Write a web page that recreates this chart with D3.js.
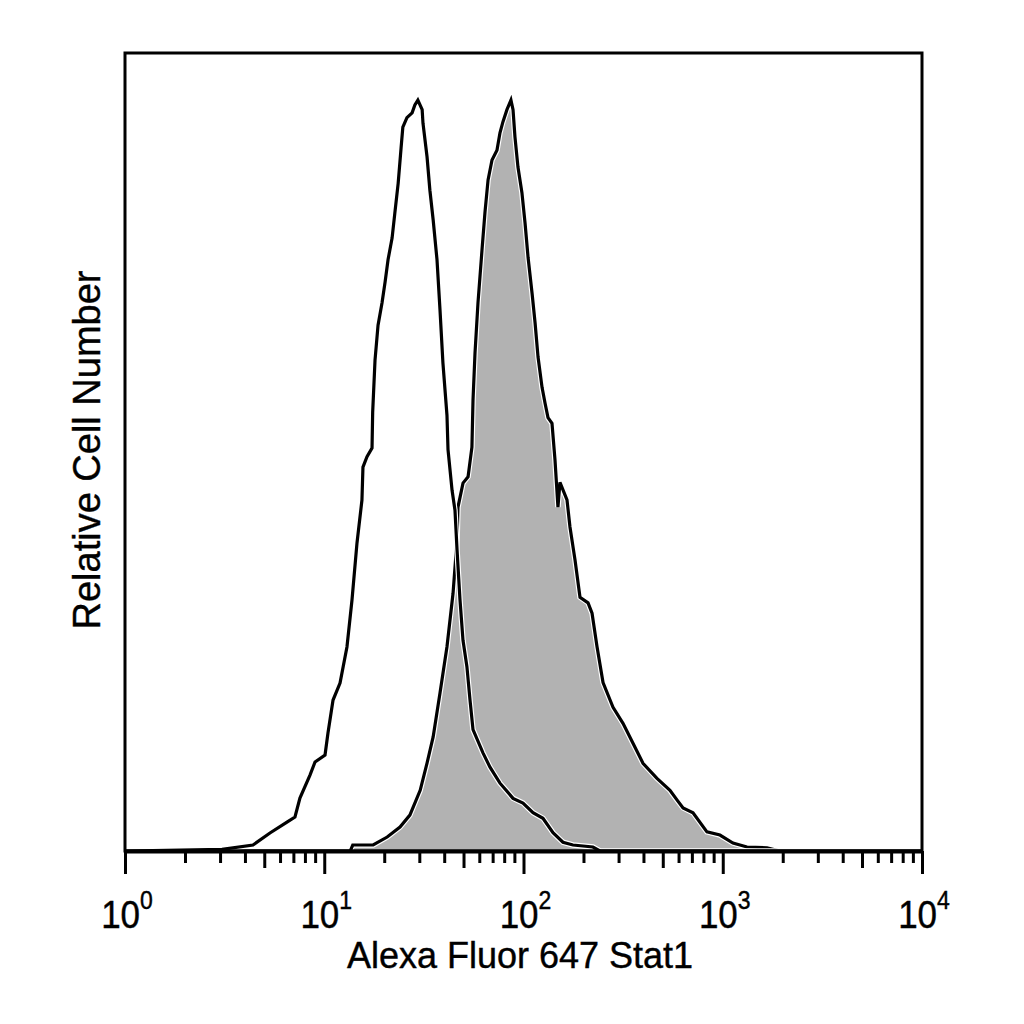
<!DOCTYPE html>
<html>
<head>
<meta charset="utf-8">
<script src="https://cdn.jsdelivr.net/npm/d3@7/dist/d3.min.js"></script>
<style>
  html, body { margin: 0; padding: 0; background: #fff; }
  svg { display: block; }
  text { font-family: Arial, "Liberation Sans", sans-serif; fill: #000; stroke: #000; stroke-width: 0.4px; }
</style>
</head>
<body>
<svg id="chart" width="1024" height="1024"></svg>
<script>
// ---- Data ----
// Isotype control (open histogram): fluorescence values and relative counts
const isoX = [1, 3.07, 4.39, 5.34, 6.50, 7.13, 7.55, 8.48, 8.99, 10.09, 10.44, 11.07, 12.0, 13.0, 13.78, 14.6, 15.46, 15.64, 16.39, 17.37, 17.5, 17.98, 18.62, 19.5, 20.2, 20.9, 21.9, 22.6, 23.5, 24.3, 24.8, 26.0, 27.6, 28.5, 29.5, 31.0, 31.3, 32.8, 33.9, 35.2, 36.8, 38.1, 39.4, 41.3, 41.8, 43.8, 45.3, 46.4, 48.0, 49.7, 52.0, 53.9, 55.8, 62.6, 67.9, 76.2, 88.6, 99.4, 111.6, 125.2, 140.6, 157.8, 177.1, 223, 242, 10000];
const isoY = [0, 0.2, 0.75, 2.26, 3.63, 4.26, 6.64, 9.52, 11.15, 12.03, 14.79, 18.92, 21.05, 25.56, 31.45, 38.6, 43.98, 48.1, 49.4, 50.5, 55.0, 61.5, 65.9, 68.7, 71.3, 74.1, 76.8, 79.9, 83.7, 88.1, 90.7, 91.9, 92.5, 93.5, 94.1, 92.9, 91.2, 87.0, 82.8, 79.1, 74.1, 67.8, 61.2, 54.6, 50.3, 45.2, 42.7, 37.7, 31.5, 26.4, 23.1, 18.9, 15.2, 12.3, 10.5, 8.5, 6.6, 6.0, 4.8, 4.1, 2.3, 1.1, 0.75, 0.5, 0, 0];

// Stat1 staining (filled histogram)
const statX = [1, 13.5, 13.9, 17.6, 20.7, 24.0, 26.9, 30.3, 32.8, 35.2, 38.1, 41.3, 44.3, 46.4, 46.9, 49.7, 52.7, 55.1, 55.8, 57.1, 59.1, 61.9, 64.1, 66.4, 69.5, 73.6, 76.2, 78.9, 82.6, 86.5, 88.6, 90.6, 93.8, 98.2, 101.8, 105.4, 110.4, 114.3, 118.3, 123.9, 128.3, 132.7, 139.0, 143.9, 148.9, 152.4, 165.3, 171.1, 181.3, 192.1, 210.8, 220.8, 233.9, 250.7, 281.4, 315.7, 354.4, 397.7, 467.6, 543.3, 589, 632, 709, 833, 968, 1125, 1323, 1667, 1937, 10000];
const statY = [0, 0, 0.75, 0.75, 1.75, 3.0, 4.5, 7.6, 11.0, 14.3, 19.8, 25.6, 32.3, 39.0, 43.1, 46.1, 46.9, 50.6, 56.5, 62.4, 68.7, 75.3, 80.1, 84.1, 86.6, 87.8, 90.0, 91.4, 92.9, 94.1, 92.9, 89.5, 85.7, 82.5, 78.7, 74.4, 69.9, 66.2, 61.9, 58.1, 56.1, 54.3, 53.6, 49.0, 43.1, 46.2, 44.0, 40.6, 36.5, 31.8, 31.1, 29.8, 25.6, 21.1, 18.0, 16.0, 13.5, 11.0, 9.1, 7.6, 6.4, 5.4, 4.8, 2.4, 2.0, 1.0, 0.5, 0.4, 0, 0];

const tickExponents = [0, 1, 2, 3, 4];
const xTitle = "Alexa Fluor 647 Stat1";
const yTitle = "Relative Cell Number";

// ---- Chart ----
const svg = d3.select("#chart");
const mLeft = 125, mRight = 922, mTop = 53, mBottom = 851;

const x = d3.scaleLog().domain([1, 10000]).range([mLeft, mRight]);
const y = d3.scaleLinear().domain([0, 100]).range([mBottom, mTop]);

const iso = isoX.map((v, i) => [v, isoY[i]]);
const stat = statX.map((v, i) => [v, statY[i]]);

const line = d3.line().x(d => x(d[0])).y(d => y(d[1]));
const area = d3.area().x(d => x(d[0])).y0(y(0)).y1(d => y(d[1]));

// filled Stat1 histogram
svg.append("path").datum(stat).attr("d", area).attr("fill", "#b2b2b2");
svg.append("path").datum(stat).attr("d", line)
  .attr("fill", "none").attr("stroke", "#fff").attr("stroke-width", 5.5);
svg.append("path").datum(stat).attr("d", line)
  .attr("fill", "none").attr("stroke", "#000").attr("stroke-width", 3.2);

// open isotype histogram
svg.append("path").datum(iso).attr("d", line)
  .attr("fill", "none").attr("stroke", "#fff").attr("stroke-width", 5.5);
svg.append("path").datum(iso).attr("d", line)
  .attr("fill", "none").attr("stroke", "#000").attr("stroke-width", 3.2);

// frame
svg.append("rect")
  .attr("x", mLeft).attr("y", mTop)
  .attr("width", mRight - mLeft).attr("height", mBottom - mTop)
  .attr("fill", "none").attr("stroke", "#000").attr("stroke-width", 3);

// x axis with log ticks
const tickVals = [];
for (let e = 0; e < 4; e++) {
  for (let m = 1; m < 10; m++) tickVals.push(m * Math.pow(10, e));
}
tickVals.push(10000);

const axis = d3.axisBottom(x).tickValues(tickVals).tickSizeOuter(0).tickFormat("");
const gAxis = svg.append("g").attr("transform", `translate(0,${mBottom})`).call(axis);
gAxis.select(".domain").attr("stroke", "#000").attr("stroke-width", 4);
gAxis.selectAll(".tick line")
  .attr("stroke", "#000")
  .attr("stroke-width", 3)
  .attr("y2", d => {
    const m = d / Math.pow(10, Math.floor(Math.log10(d) + 1e-9));
    const r = Math.round(m);
    if (r === 1) return 23;
    if (r === 5) return 17;
    return 12;
  });

// tick labels 10^n
const labels = svg.append("g");
tickExponents.forEach(e => {
  const t = labels.append("text")
    .attr("transform", `translate(${x(Math.pow(10, e)) + 2},928) scale(1,1.12)`)
    .attr("text-anchor", "middle")
    .style("font-size", "35px");
  t.append("tspan").text("10");
  t.append("tspan").attr("dy", -17).style("font-size", "23px").text(String(e));
});

// axis titles
svg.append("text")
  .attr("x", 520).attr("y", 968)
  .attr("text-anchor", "middle")
  .style("font-size", "36px")
  .text(xTitle);

svg.append("text")
  .attr("transform", "translate(100,450) rotate(-90)")
  .attr("text-anchor", "middle")
  .style("font-size", "38px")
  .text(yTitle);
</script>
</body>
</html>
